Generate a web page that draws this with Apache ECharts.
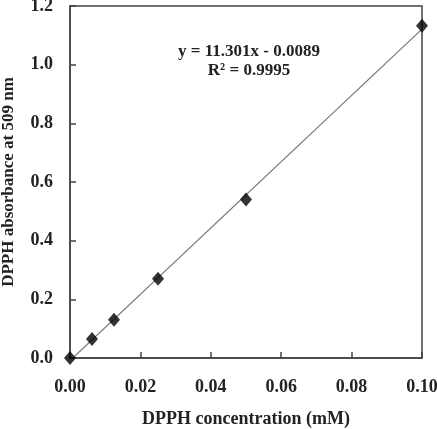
<!DOCTYPE html>
<html>
<head>
<meta charset="utf-8">
<script src="https://cdn.jsdelivr.net/npm/echarts@6/dist/echarts.min.js"></script>
<style>
  html, body { margin: 0; padding: 0; background: #fff; }
  #chart { width: 437px; height: 429px; }
</style>
</head>
<body>
<div id="chart"></div>
<script>
// measured points
var concX = [0, 0.00625, 0.0125, 0.025, 0.05, 0.1];
var absY = [0, 0.065, 0.13, 0.27, 0.54, 1.133];

// linear fit endpoints (y = 11.301x - 0.0089)
var fitX = [0, 0.1];
var fitY = [-0.0089, 1.1212];

var xTicks = ['0.00', '0.02', '0.04', '0.06', '0.08', '0.10'];

var myChart = echarts.init(document.getElementById('chart'));

var serif = '"Liberation Serif", "DejaVu Serif", serif';

var option = {
    animation: false,
    grid: {
        left: 70,
        right: 15,
        top: 6,
        bottom: 71,
        containLabel: false,
        outerBoundsMode: 'none'
    },
    xAxis: {
        type: 'value',
        min: 0,
        max: 0.1,
        interval: 0.02,
        name: 'DPPH concentration (mM)',
        nameLocation: 'middle',
        nameGap: 52,
        nameTextStyle: { fontFamily: serif, fontWeight: 'bold', fontSize: 18, color: '#222' },
        axisLine: { show: true, onZero: false, lineStyle: { color: '#444', width: 1.5 } },
        axisTick: { show: true, inside: true, length: 6, lineStyle: { color: '#444', width: 1.5 } },
        axisLabel: {
            margin: 20,
            fontFamily: serif, fontWeight: 'bold', fontSize: 18, color: '#222',
            formatter: function (v) { return xTicks[Math.round(v / 0.02)]; }
        },
        splitLine: { show: false }
    },
    yAxis: {
        type: 'value',
        min: 0,
        max: 1.2,
        interval: 0.2,
        name: 'DPPH absorbance at 509 nm',
        nameLocation: 'middle',
        nameGap: 53,
        nameTextStyle: { fontFamily: serif, fontWeight: 'bold', fontSize: 17, color: '#222' },
        axisLine: { show: true, onZero: false, lineStyle: { color: '#444', width: 1.5 } },
        axisTick: { show: true, inside: true, length: 6, lineStyle: { color: '#444', width: 1.5 } },
        axisLabel: {
            margin: 17,
            fontFamily: serif, fontWeight: 'bold', fontSize: 18, color: '#222',
            formatter: function (v) { return v.toFixed(1); }
        },
        splitLine: { show: false }
    },
    graphic: [
        {
            type: 'rect',
            shape: { x: 70, y: 6, width: 352, height: 352 },
            style: { fill: 'none', stroke: '#444', lineWidth: 1.5 },
            silent: true
        },
        {
            type: 'text',
            x: 249,
            y: 42,
            style: {
                text: 'y = 11.301x - 0.0089\nR² = 0.9995',
                font: 'bold 17px ' + serif,
                fill: '#222',
                align: 'center',
                verticalAlign: 'top',
                lineHeight: 19
            }
        }
    ],
    series: [
        {
            type: 'line',
            data: fitX.map(function (x, i) { return [x, fitY[i]]; }),
            symbol: 'none',
            clip: true,
            lineStyle: { color: '#777', width: 1.2 },
            z: 2
        },
        {
            type: 'scatter',
            data: concX.map(function (x, i) { return [x, absY[i]]; }),
            symbol: 'diamond',
            symbolSize: [12, 14],
            itemStyle: { color: '#000' },
            clip: false,
            z: 3
        }
    ]
};

myChart.setOption(option);
</script>
</body>
</html>
